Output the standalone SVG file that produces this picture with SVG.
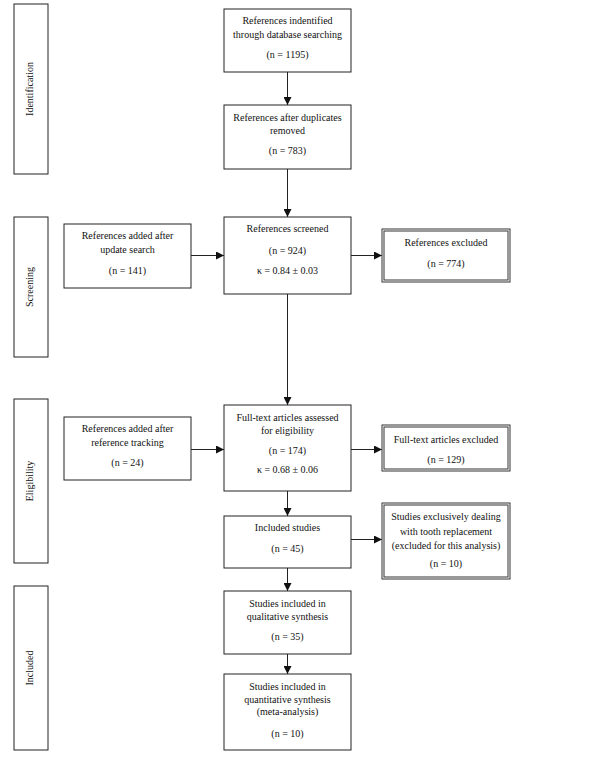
<svg xmlns="http://www.w3.org/2000/svg" width="600" height="763" viewBox="0 0 600 763">
<style>
.box{fill:#fff;stroke:#222;stroke-width:1}
.dbl{fill:#fff;stroke:#333;stroke-width:1}
.lbl{fill:#fff;stroke:#222;stroke-width:1}
text{font-family:"Liberation Serif","Times New Roman",serif;font-size:10px;fill:#111;text-anchor:middle}
.con{stroke:#222;stroke-width:1;fill:none;marker-end:url(#ah)}
</style>
<defs>
<marker id="ah" viewBox="0 0 8 8" refX="8" refY="4" markerWidth="8" markerHeight="8" markerUnits="userSpaceOnUse" orient="auto">
<path d="M0,0 L8,4 L0,8 Z" fill="#111"/>
</marker>
</defs>
<rect width="600" height="763" fill="#fff"/>

<g id="phase-identification"><rect class="lbl" x="14" y="4" width="34" height="170"/><text transform="translate(33,89) rotate(-90)">Identification</text></g>
<g id="phase-screening"><rect class="lbl" x="14" y="217" width="34" height="140"/><text transform="translate(33,287) rotate(-90)">Screening</text></g>
<g id="phase-eligibility"><rect class="lbl" x="14" y="399" width="34" height="164"/><text transform="translate(33,481) rotate(-90)">Eligibility</text></g>
<g id="phase-included"><rect class="lbl" x="14" y="586" width="34" height="164"/><text transform="translate(33,668) rotate(-90)">Included</text></g>

<g id="connectors">
<line class="con" x1="287.5" y1="72" x2="287.5" y2="105"/>
<line class="con" x1="287.5" y1="169" x2="287.5" y2="217"/>
<line class="con" x1="191" y1="255.5" x2="224" y2="255.5"/>
<line class="con" x1="351" y1="255.5" x2="382" y2="255.5"/>
<line class="con" x1="287.5" y1="294" x2="287.5" y2="405"/>
<line class="con" x1="191" y1="449.5" x2="224" y2="449.5"/>
<line class="con" x1="351" y1="449.5" x2="382" y2="449.5"/>
<line class="con" x1="287.5" y1="491" x2="287.5" y2="516"/>
<line class="con" x1="351" y1="539.5" x2="382" y2="539.5"/>
<line class="con" x1="287.5" y1="568" x2="287.5" y2="591"/>
<line class="con" x1="287.5" y1="654" x2="287.5" y2="674"/>
</g>

<g id="n1"><rect class="box" x="224" y="9" width="127" height="63"/>
<text x="287.5" y="24">References indentified</text><text x="287.5" y="38">through database searching</text><text x="287.5" y="58">(n = 1195)</text></g>

<g id="n2"><rect class="box" x="224" y="105" width="127" height="64"/>
<text x="287.5" y="121">References after duplicates</text><text x="287.5" y="134">removed</text><text x="287.5" y="154">(n = 783)</text></g>

<g id="n3"><rect class="box" x="64" y="224" width="127" height="64"/>
<text x="127.5" y="239">References added after</text><text x="127.5" y="253">update search</text><text x="127.5" y="274">(n = 141)</text></g>

<g id="n4"><rect class="box" x="224" y="217" width="127" height="77"/>
<text x="287.5" y="232">References screened</text><text x="287.5" y="254">(n = 924)</text><text x="287.5" y="274">κ = 0.84 ± 0.03</text></g>

<g id="n5"><rect class="dbl" x="382" y="229" width="128" height="53" stroke-width="1.5"/><rect class="dbl" x="384" y="231" width="124" height="49"/>
<text x="446" y="246">References excluded</text><text x="446" y="267">(n = 774)</text></g>

<g id="n6"><rect class="box" x="64" y="417" width="127" height="63"/>
<text x="127.5" y="432">References added after</text><text x="127.5" y="446">reference tracking</text><text x="127.5" y="466">(n = 24)</text></g>

<g id="n7"><rect class="box" x="224" y="405" width="127" height="86"/>
<text x="287.5" y="421">Full-text articles assessed</text><text x="287.5" y="434">for eligibility</text><text x="287.5" y="454">(n = 174)</text><text x="287.5" y="473">κ = 0.68 ± 0.06</text></g>

<g id="n8"><rect class="dbl" x="382" y="425" width="128" height="46" stroke-width="1.5"/><rect class="dbl" x="384" y="427" width="124" height="42"/>
<text x="446" y="443">Full-text articles excluded</text><text x="446" y="463">(n = 129)</text></g>

<g id="n9"><rect class="box" x="224" y="516" width="127" height="52"/>
<text x="287.5" y="531">Included studies</text><text x="287.5" y="552">(n = 45)</text></g>

<g id="n10"><rect class="dbl" x="382" y="503" width="128" height="76" stroke-width="1.5"/><rect class="dbl" x="384" y="505" width="124" height="72"/>
<text x="446" y="520">Studies exclusively dealing</text><text x="446" y="535">with tooth replacement</text><text x="446" y="549">(excluded for this analysis)</text><text x="446" y="567">(n = 10)</text></g>

<g id="n11"><rect class="box" x="224" y="591" width="127" height="63"/>
<text x="287.5" y="607">Studies included in</text><text x="287.5" y="620">qualitative synthesis</text><text x="287.5" y="640">(n = 35)</text></g>

<g id="n12"><rect class="box" x="224" y="674" width="127" height="76"/>
<text x="287.5" y="690">Studies included in</text><text x="287.5" y="703">quantitative synthesis</text><text x="287.5" y="715">(meta-analysis)</text><text x="287.5" y="737">(n = 10)</text></g>
</svg>
